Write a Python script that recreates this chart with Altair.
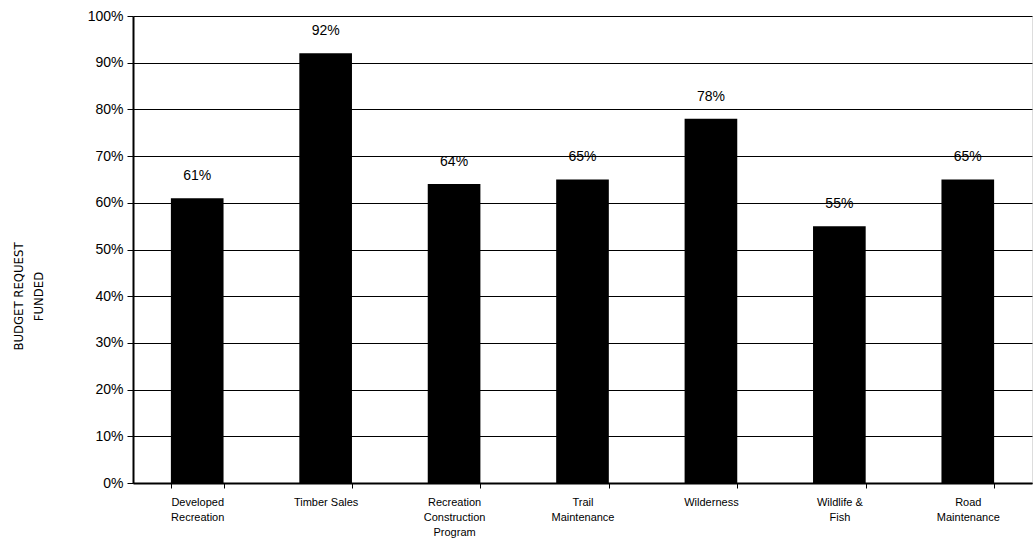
import altair as alt
import pandas as pd

categories = ["Developed|Recreation", "Timber Sales", "Recreation|Construction|Program",
              "Trail|Maintenance", "Wilderness", "Wildlife &|Fish", "Road|Maintenance"]
values = [0.61, 0.92, 0.64, 0.65, 0.78, 0.55, 0.65]

df = pd.DataFrame({"category": categories, "value": values})

base = alt.Chart(df).encode(
    x=alt.X("category:N", sort=None,
            scale=alt.Scale(paddingInner=0.59, paddingOuter=0.295),
            axis=alt.Axis(title=None, labelAngle=0,
                          labelExpr="isValid(datum.value) ? split(datum.value, '|') : ''",
                          labelFont="Liberation Sans", labelFontSize=11, labelColor="black",
                          labelPadding=8, labelLineHeight=15, tickBand="extent",
                          tickSize=5, tickColor="black", domainColor="black", domainWidth=2,
                          labelBaseline="top")),
)

bars = base.mark_bar(color="black").encode(
    y=alt.Y("value:Q", scale=alt.Scale(domain=[0, 1]),
            axis=alt.Axis(format=".0%", values=[i / 10 for i in range(11)],
                          labelFont="Liberation Sans", labelFontSize=14, labelColor="black",
                          tickSize=6, tickColor="black", domainColor="black", domainWidth=2,
                          gridColor="black", gridWidth=1, labelPadding=4,
                          title=["BUDGET  REQUEST", "FUNDED"], titleFont="DejaVu Sans Condensed",
                          titleFontSize=13, titleFontWeight="normal", titleColor="black",
                          titleX=-108, titleY=280, titleAngle=270, titleLineHeight=20,
                          titleAlign="center"))
)

labels = base.mark_text(font="Liberation Sans", fontSize=14, color="black",
                        baseline="bottom", dy=-15).encode(
    y="value:Q",
    text=alt.Text("value:Q", format=".0%"),
)

chart = (bars + labels).properties(
    width=899, height=467,
    autosize=alt.AutoSizeParams(type="none"),
    padding={"left": 133, "top": 16, "right": 3, "bottom": 68},
).configure_view(stroke="black", strokeWidth=2).configure(background="white")

chart.save("out.html", embed_options={"renderer": "svg", "actions": False})
